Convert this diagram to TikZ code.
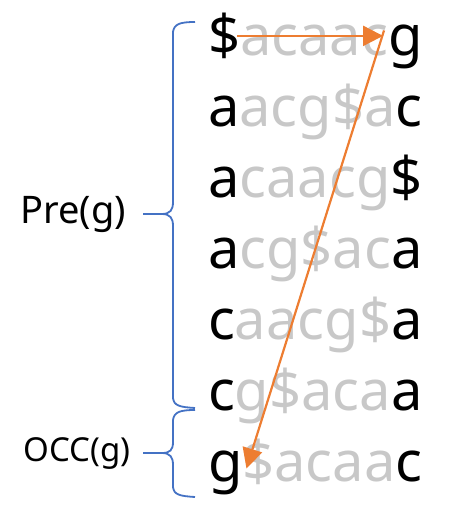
\documentclass[tikz,border=0pt]{standalone}
\usepackage{fontspec}
\setmainfont{Noto Sans}
\usetikzlibrary{arrows.meta, positioning, calc}
\definecolor{bwtGray}{RGB}{200, 200, 200}
\definecolor{bwtOrange}{RGB}{237, 125, 49}
\definecolor{braceBlue}{RGB}{68, 114, 196}
\tikzstyle{letter} = [inner sep=0pt, outer sep=0pt, font=\fontsize{56}{60}\selectfont]
\tikzstyle{rest} = [letter, text=bwtGray]
\tikzstyle{lfarrow} = [line width=2.2pt, draw=bwtOrange, -{Triangle[length=20pt, width=20pt]}]
\tikzstyle{braceline} = [line width=1.8pt, draw=braceBlue]
\tikzstyle{tag} = [inner sep=0pt]

\begin{document}
\begin{tikzpicture}[x=1pt, y=-1pt]
			\useasboundingbox (0,0) rectangle (450,514);
			% rows of the sorted rotations
			\foreach \f/\m/\l [count=\i] in {\$/acaac/g, a/acg\$a/c, a/caacg/\$, a/cg\$ac/a, c/aacg\$/a, c/g\$aca/a, g/\$acaa/c}{
				\node (f\i) [letter, anchor=base west] at (208, {55 + 71*(\i-1)}) {\f};
				\node (m\i) [rest, anchor=base west] at (f\i.base east) {\m};
				\node (l\i) [letter, anchor=base west] at (m\i.base east) {\l};
			}
			
			% LF mapping
			\coordinate (hit) at (l1.west |- f1.east);
			\draw[lfarrow] ($ (f1.east) + (-3, 0.5) $) -- ($ (hit) + (-5, 0.5) $);
			\draw[lfarrow] ($ (l1.north west) + (-4, 6) $) -- ($ (f7.east) + (4, -4) $);
			
			% braces
			\coordinate (pretip) at (143, 214);
			\coordinate (occtip) at (143, 453);
			\draw[braceline] (195,22) .. controls (180,22) and (174,24) .. (173,32) -- (173,202)
				.. controls (173,210) and (170,214) .. (162,214) -- (pretip)
				(162,214) .. controls (170,214) and (173,218) .. (173,226) -- (173,398)
				.. controls (174,406) and (180,407) .. (195,408);
			\draw[braceline] (195,410) .. controls (180,410) and (174,412) .. (173,420) -- (173,442)
				.. controls (173,450) and (170,453) .. (162,453) -- (occtip)
				(162,453) .. controls (170,453) and (173,457) .. (173,465) -- (173,487)
				.. controls (174,495) and (180,496) .. (195,497);
			
			\node (pre) [tag, font=\fontsize{38}{42}\selectfont, left=17pt of pretip] {Pre(g)};
			\node (occ) [tag, font=\fontsize{33}{38}\selectfont, left=12pt of occtip] {OCC(g)};
\end{tikzpicture}
\end{document}
